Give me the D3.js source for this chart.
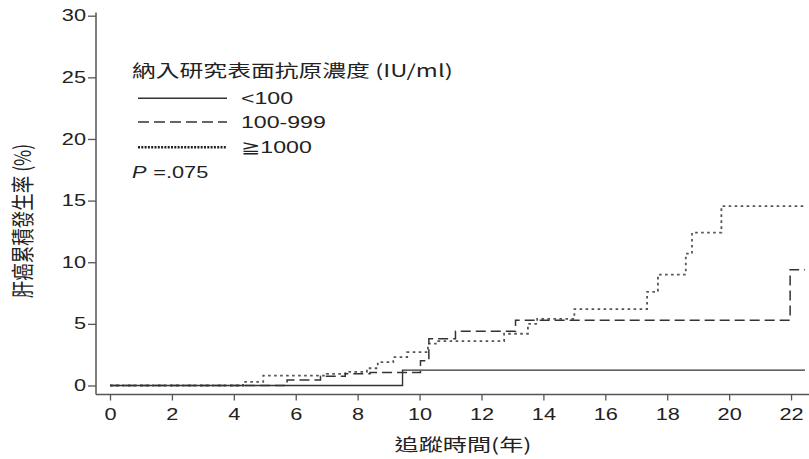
<!DOCTYPE html>
<html>
<head>
<meta charset="utf-8">
<script src="https://cdn.jsdelivr.net/npm/d3@7"></script>
<style>
  body { margin: 0; background: #fff; }
  svg text { font-family: "Liberation Sans", Arial, sans-serif; fill: #222; }
  svg text.cjk { font-family: "Noto Sans CJK TC", "Noto Sans CJK SC", sans-serif; }
</style>
</head>
<body>
<svg id="chart" width="809" height="459"></svg>
<script>
// cumulative HCC incidence (%) by follow-up year, step after
const lowTimes = [0, 9.45, 22.45];
const lowVals = [0, 1.25, 1.25];

const midTimes = [0, 5.72, 6.8, 7.6, 8.4, 10.03, 10.3, 11.16, 13.1, 21.97, 22.45];
const midVals = [0, 0.45, 0.75, 0.95, 1.05, 2.0, 3.8, 4.4, 5.3, 9.4, 9.4];

const highTimes = [0, 4.3, 4.95, 7.0, 7.6, 8.3, 8.65, 9.15, 9.6, 10.27, 10.6, 12.73, 13.5, 13.8, 15.0, 17.35, 17.7, 18.6, 18.8, 19.75, 22.4];
const highVals = [0, 0.3, 0.8, 0.95, 1.1, 1.4, 1.9, 2.3, 2.7, 3.4, 3.6, 4.2, 5.0, 5.4, 6.2, 7.6, 9.0, 10.7, 12.4, 14.55, 14.55];

const xTicks = [0, 2, 4, 6, 8, 10, 12, 14, 16, 18, 20, 22];
const yTicks = [0, 5, 10, 15, 20, 25, 30];

const legendTitle = "納入研究表面抗原濃度 (IU/ml)";
const legendLabels = ["<100", "100-999", "≧1000"];
const pText = "=.075";

// the original is stretched sideways, so text gets a horizontal scale
const SX = 1.36;

const svg = d3.select("#chart");

const x = d3.scaleLinear().domain([0, 22.58]).range([110, 809]);
const y = d3.scaleLinear().domain([0, 30]).range([385.5, 15.7]);

// axes
const yAxis = svg.append("g")
    .attr("transform", "translate(96,0)")
    .call(d3.axisLeft(y).tickValues(yTicks).tickSize(8));
yAxis.select(".domain").remove();
yAxis.selectAll(".tick text")
    .attr("x", -10 / SX)
    .attr("transform", `scale(${SX},1)`);
svg.append("line")
    .attr("x1", 96).attr("x2", 96)
    .attr("y1", 12.5).attr("y2", 394.5)
    .attr("stroke", "#555").attr("stroke-width", 1.5);

const xAxis = svg.append("g")
    .attr("transform", "translate(0,394.5)")
    .call(d3.axisBottom(x).tickValues(xTicks).tickSize(6).tickPadding(8));
xAxis.select(".domain").remove();
xAxis.selectAll(".tick text")
    .attr("transform", `scale(${SX},1)`);
svg.append("line")
    .attr("x1", 96).attr("x2", 809)
    .attr("y1", 394.5).attr("y2", 394.5)
    .attr("stroke", "#555").attr("stroke-width", 1.5);

svg.selectAll(".tick line").attr("stroke", "#555").attr("stroke-width", 1.3);
svg.selectAll(".tick text")
    .attr("font-size", 16)
    .style("font-family", "'Liberation Sans', Arial, sans-serif")
    .attr("fill", "#222");

// curves
const line = d3.line()
    .x(d => x(d[0]))
    .y(d => y(d[1]))
    .curve(d3.curveStepAfter);

const series = [
  { times: lowTimes, vals: lowVals, dash: null, legDash: null, color: "#333", width: 1.4, legColor: "#333", legWidth: 1.4 },
  { times: midTimes, vals: midVals, dash: "10,5", legDash: "11,5", color: "#333", width: 1.5, legColor: "#333", legWidth: 1.5 },
  { times: highTimes, vals: highVals, dash: "2.6,3.4", legDash: "2,1.3", color: "#555", width: 1.8, legColor: "#222", legWidth: 2.4 }
];

svg.append("g").selectAll("path")
  .data(series.slice().reverse())
  .join("path")
    .attr("d", s => line(s.times.map((t, i) => [t, s.vals[i]])))
    .attr("fill", "none")
    .attr("stroke", s => s.color)
    .attr("stroke-width", s => s.width)
    .attr("stroke-dasharray", s => s.dash);

// legend
function stretched(sel, px, py, sx) {
  return sel.attr("transform", `translate(${px},${py}) scale(${sx},1)`);
}

svg.append("text")
    .attr("class", "cjk")
    .attr("font-size", 17)
    .call(stretched, 132, 77, 1.4)
    .text(legendTitle);

const leg = svg.append("g").selectAll("g")
  .data(series)
  .join("g")
    .attr("transform", (d, i) => `translate(0,${[98.3, 122, 147.3][i]})`);

leg.append("line")
    .attr("x1", 138).attr("x2", 227)
    .attr("stroke", d => d.legColor)
    .attr("stroke-width", d => d.legWidth)
    .attr("stroke-dasharray", d => d.legDash);

leg.append("text")
    .attr("font-size", 17)
    .call(stretched, 241, 6, SX)
    .text((d, i) => legendLabels[i]);

const pt = svg.append("text")
    .attr("font-size", 16)
    .call(stretched, 132, 178, SX);
pt.append("tspan").attr("font-style", "italic").text("P");
pt.append("tspan").attr("dx", 5).text(pText);

// axis titles
svg.append("text")
    .attr("class", "cjk")
    .attr("transform", "translate(31,221) rotate(-90) scale(1,1.3)")
    .attr("text-anchor", "middle")
    .attr("font-size", 17.5)
    .text("肝癌累積發生率 (%)");

svg.append("text")
    .attr("class", "cjk")
    .attr("text-anchor", "middle")
    .attr("font-size", 17.5)
    .call(stretched, 463, 451, 1.38)
    .text("追蹤時間(年)");
</script>
</body>
</html>
